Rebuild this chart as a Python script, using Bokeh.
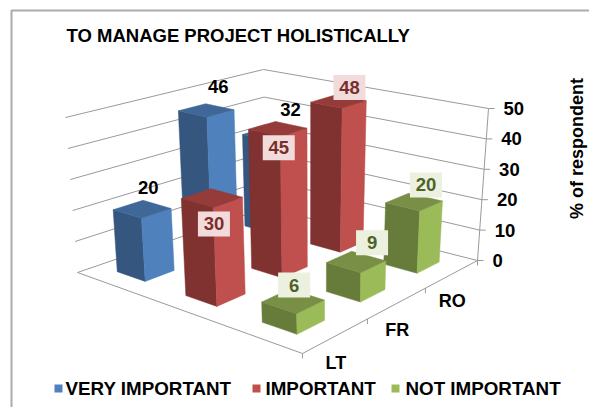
from bokeh.plotting import figure
from bokeh.models import Range1d
from bokeh.embed import file_html
from bokeh.resources import INLINE
from bokeh.core.properties import value as fv
import math

TITLE = "TO MANAGE PROJECT HOLISTICALLY"
CATEGORIES = ["LT", "FR", "RO"]
SERIES = ["VERY IMPORTANT", "IMPORTANT", "NOT IMPORTANT"]
VERY_IMPORTANT = [20, 46, 32]
IMPORTANT = [30, 45, 48]
NOT_IMPORTANT = [6, 9, 20]
VALUE_TICKS = [0, 10, 20, 30, 40, 50]
AXIS_TITLE = "% of respondent"

VALUES = [VERY_IMPORTANT, IMPORTANT, NOT_IMPORTANT]
FONT = fv("Liberation Sans")
VMAX = 50

# --- box corners on the page (floor: left, front, back, right; same at value 50)
F_L, F_F, F_B, F_R = (77, 272), (302, 353), (266, 207), (477, 260)
T_L, T_F, T_B, T_R = (65, 117), (298, 175), (263, 69), (488, 108)
K = 1.18
BAR = 0.42


def warp(t):
    return t * K / (1 + (K - 1) * t)


def lerp(a, b, t):
    return (a[0] + (b[0] - a[0]) * t, a[1] + (b[1] - a[1]) * t)


def proj(u, v, val):
    """u: 0-1 along the series axis, v: 0-1 along the category axis."""
    uw, vw = 1 - warp(1 - u), warp(v)
    low = lerp(lerp(F_L, F_F, uw), lerp(F_B, F_R, uw), vw)
    high = lerp(lerp(T_L, T_F, uw), lerp(T_B, T_R, uw), vw)
    return lerp(low, high, val / VMAX)


FACE = {
    0: ("#4F81BD", "#34567F", "#3F6797"),
    1: ("#C0504D", "#7F3230", "#953B39"),
    2: ("#9BBB59", "#677C3A", "#788F45"),
}
LABEL_STYLE = {
    0: (None, "#000000"),
    1: ("#F2DCDB", "#7A2E2C"),
    2: ("#EBF1DE", "#4F6228"),
}
# pixel nudge of each label from the middle of its bar top, per series and category
LABEL_NUDGE = {
    (0, 0): (6, -22), (0, 1): (12, -24), (0, 2): (22, -24),
    (1, 0): (2, 26), (1, 1): (1, 19), (1, 2): (11, -14),
    (2, 0): (1, -16), (2, 1): (16, -19), (2, 2): (12, -17),
}

p = figure(width=589, height=407, x_range=Range1d(0, 589), y_range=Range1d(407, 0),
           output_backend="svg", toolbar_location=None, min_border=0,
           outline_line_color=None, background_fill_color="#FFFFFF",
           border_fill_color="#FFFFFF")
p.axis.visible = False
p.grid.visible = False

# outer frame
p.line([11, 11, 589], [407, 10, 10], line_color="#ABABAB", line_width=2)


def seg(a, b, color="#9A9A9A", w=1.0):
    p.line([a[0], b[0]], [a[1], b[1]], line_color=color, line_width=w)


# gridlines on the two back walls
for t in VALUE_TICKS:
    seg(proj(0, 0, t), proj(0, 1, t))
    seg(proj(0, 1, t), proj(1, 1, t))
    a = proj(1, 1, t)
    seg(a, (a[0] + 6, a[1]))
    p.text([a[0] + 15], [a[1]], text=[str(t)], text_font=FONT, text_font_style="bold",
           text_font_size="18.5px", text_align="left", text_baseline="middle", text_color="#000000")
# floor edges and the value axis
seg(proj(0, 0, 0), proj(1, 0, 0))
seg(proj(1, 0, 0), proj(1, 1, 0))
seg(proj(1, 1, 0), proj(1, 1, VMAX))
for i in range(len(CATEGORIES) + 1):
    a = proj(1, i / len(CATEGORIES), 0)
    seg(a, (a[0], a[1] + 5))
for i, c in enumerate(CATEGORIES):
    a = proj(1, (i + 0.5) / len(CATEGORIES), 0)
    p.text([a[0] + 0], [a[1] + 27], text=[c], text_font=FONT, text_font_style="bold",
           text_font_size="18px", text_align="center", text_baseline="middle", text_color="#000000")

# bars, painted from the back to the front
nu, nv = len(SERIES), len(CATEGORIES)
labels = []
for j in reversed(range(nv)):
    for i in range(nu):
        val = VALUES[i][j]
        u0, u1 = (i + 0.5 - BAR / 2) / nu, (i + 0.5 + BAR / 2) / nu
        v0, v1 = (j + 0.5 - BAR / 2) / nv, (j + 0.5 + BAR / 2) / nv
        right, left, top = FACE[i]
        quads = [
            (left, [(u0, v0, 0), (u1, v0, 0), (u1, v0, val), (u0, v0, val)]),
            (right, [(u1, v0, 0), (u1, v1, 0), (u1, v1, val), (u1, v0, val)]),
            (top, [(u0, v0, val), (u1, v0, val), (u1, v1, val), (u0, v1, val)]),
        ]
        for col, q in quads:
            pts = [proj(*c) for c in q]
            p.patch([a[0] for a in pts], [a[1] for a in pts], fill_color=col,
                    line_color=col, line_width=0.5)
        c = proj((u0 + u1) / 2, (v0 + v1) / 2, val)
        n = LABEL_NUDGE[(i, j)]
        labels.append((c[0] + n[0], c[1] + n[1], str(val), i))

for x, y, s, i in labels:
    bg, fg = LABEL_STYLE[i]
    if bg:
        p.rect([x], [y], width=32, height=25, fill_color=bg, line_color=None)
    p.text([x], [y], text=[s], text_font=FONT, text_font_style="bold", text_font_size="18.5px",
           text_align="center", text_baseline="middle", text_color=fg)

# title, axis title
p.text([66], [35], text=[TITLE], text_font=FONT, text_font_style="bold", text_font_size="18.5px",
       text_align="left", text_baseline="middle", text_color="#000000")
p.text([576], [148], text=[AXIS_TITLE], angle=math.pi / 2, text_font=FONT, text_font_style="bold",
       text_font_size="18px", text_align="center", text_baseline="middle", text_color="#000000")

# legend
LEG_SQ = [58, 256, 395]
LEG_TX = [65, 265, 405]
for k, s in enumerate(SERIES):
    p.rect([LEG_SQ[k]], [388], width=8, height=8, fill_color=FACE[k][0], line_color=None)
    p.text([LEG_TX[k]], [388], text=[s], text_font=FONT, text_font_style="bold", text_font_size="18.8px",
           text_align="left", text_baseline="middle", text_color="#000000")

open("out.html", "w").write(file_html(p, INLINE))
